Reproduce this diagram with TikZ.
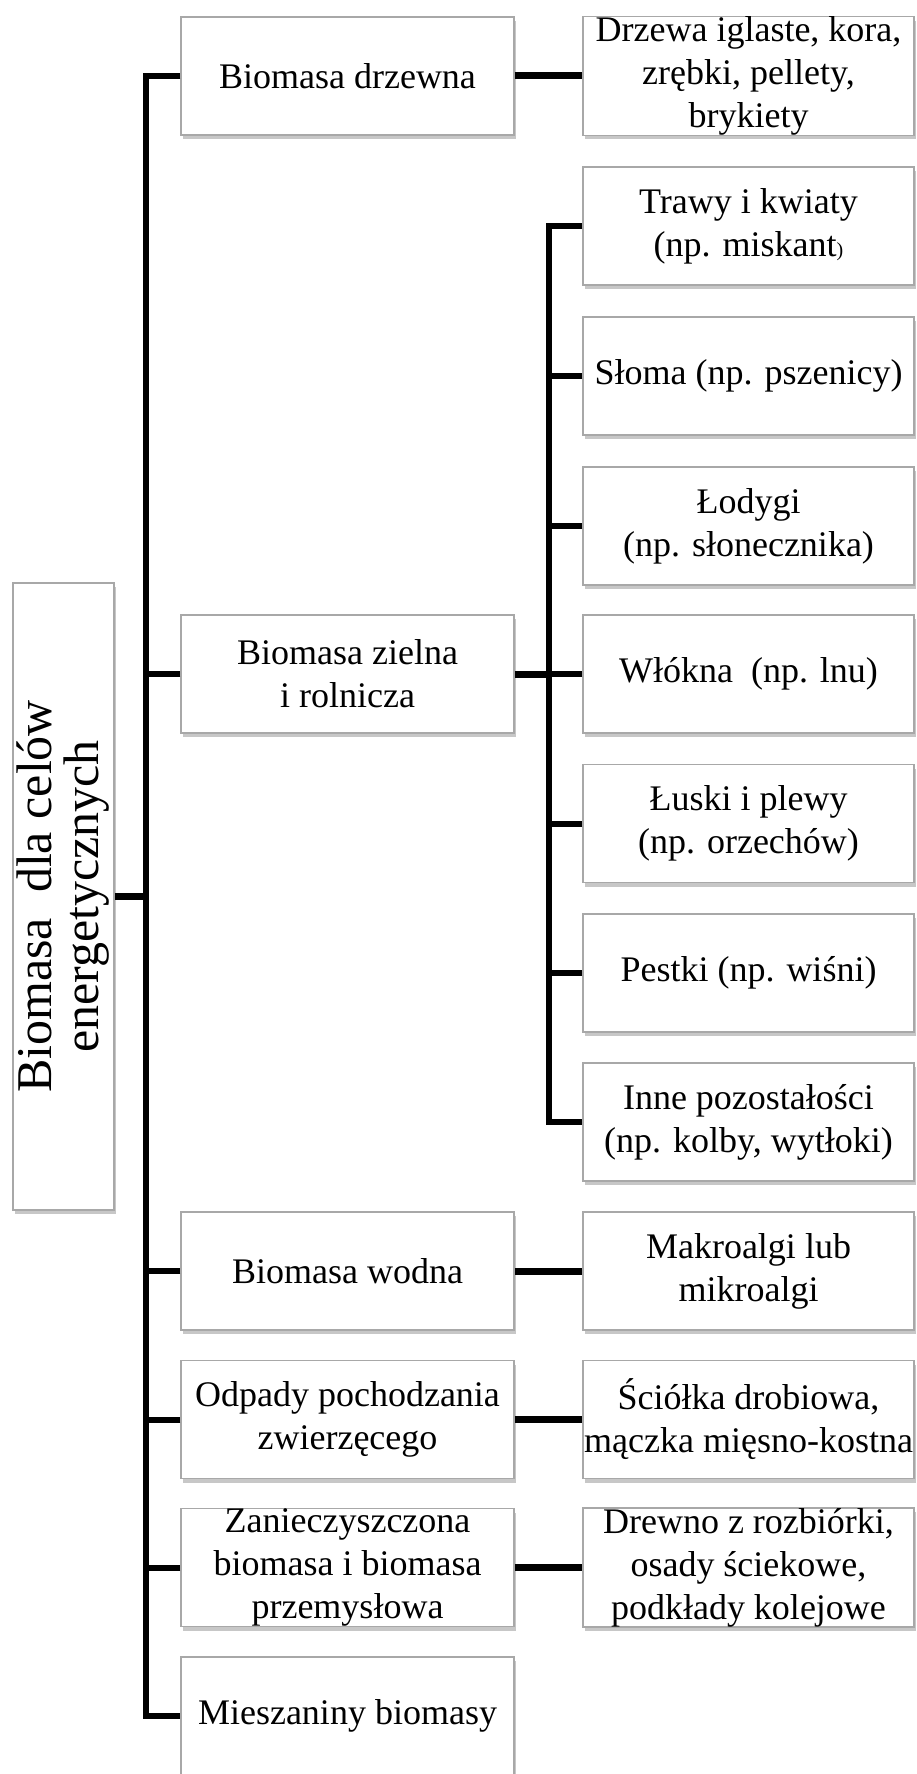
\documentclass[tikz,border=0pt]{standalone}
\usepackage{fontspec}
\setmainfont{Liberation Serif}
\usetikzlibrary{shadows}
\definecolor{boxgray}{HTML}{A8A8A8}
\begin{document}
\begin{tikzpicture}[x=1pt,y=-1pt,
  box/.style={draw=boxgray, line width=1.5pt, fill=white, minimum height=118pt,
    inner sep=0pt, align=center, font=\fontsize{36}{43}\selectfont,
    drop shadow={shadow xshift=2pt, shadow yshift=-4pt, fill=black, opacity=0.22}},
  lbox/.style={box, minimum width=333pt},
  rbox/.style={box, minimum width=331pt},
  conn/.style={line width=6pt, line join=miter},
  hconn/.style={line width=7pt}]
\useasboundingbox (0,0) rectangle (916,1774);

% root
\node[box, minimum width=101pt, minimum height=627pt] (root) at (63.5,896.5) {};
\node[rotate=90, align=center, font=\fontsize{50}{47}\selectfont] (roottext) at (root.center) {Biomasa~~dla celów\\energetycznych};

% left column
\node[lbox] (drz) at (347.5,76) {Biomasa drzewna};
\node[lbox] (ziel) at (347.5,674) {Biomasa zielna\\i rolnicza};
\node[lbox] (wod) at (347.5,1271) {Biomasa wodna};
\node[lbox] (odp) at (347.5,1419.5) {Odpady pochodzania\\zwierzęcego};
\node[lbox] (zan) at (347.5,1567.5) {Zanieczyszczona\\biomasa i biomasa\\przemysłowa};
\node[lbox] (mie) at (347.5,1716) {Mieszaniny biomasy};

% right column
\node[rbox] (drzR) at (748.5,76) {Drzewa iglaste, kora,\\zrębki, pellety,\\brykiety};
\node[rbox] (tra) at (748.5,226) {Trawy i kwiaty\\(np. miskant{\fontsize{20}{20}\selectfont)}};
\node[rbox] (slo) at (748.5,376) {Słoma (np. pszenicy)};
\node[rbox] (lod) at (748.5,526) {Łodygi\\(np. słonecznika)};
\node[rbox] (wlo) at (748.5,674) {Włókna~~(np. lnu)};
\node[rbox] (lus) at (748.5,823.5) {Łuski i plewy\\(np. orzechów)};
\node[rbox] (pes) at (748.5,973) {Pestki (np. wiśni)};
\node[rbox] (inn) at (748.5,1122) {Inne pozostałości\\(np. kolby, wytłoki)};
\node[rbox] (mak) at (748.5,1271) {Makroalgi lub\\mikroalgi};
\node[rbox] (sci) at (748.5,1419.5) {Ściółka drobiowa,\\mączka mięsno-kostna};
\node[rbox] (dre) at (748.5,1567.5) {Drewno z rozbiórki,\\osady ściekowe,\\podkłady kolejowe};

% trunk coordinates
\coordinate (t) at (146,0);
\coordinate (s) at (549,0);

% main trunk
\draw[conn] (drz.west) -- (drz.west -| t) -- (mie.west -| t) -- (mie.west);
\draw[hconn] (root.east) -- (root.east -| t);
\foreach \n in {ziel,wod,odp,zan} \draw[conn] (\n.west) -- (\n.west -| t);

% secondary trunk
\draw[conn] (tra.west) -- (tra.west -| s) -- (inn.west -| s) -- (inn.west);
\foreach \n in {slo,lod,wlo,lus,pes} \draw[conn] (\n.west) -- (\n.west -| s);
\draw[hconn] (ziel.east) -- (ziel.east -| s);

% pairs
\draw[hconn] (drz.east) -- (drzR.west);
\draw[hconn] (wod.east) -- (mak.west);
\draw[hconn] (odp.east) -- (sci.west);
\draw[hconn] (zan.east) -- (dre.west);
\end{tikzpicture}
\end{document}
